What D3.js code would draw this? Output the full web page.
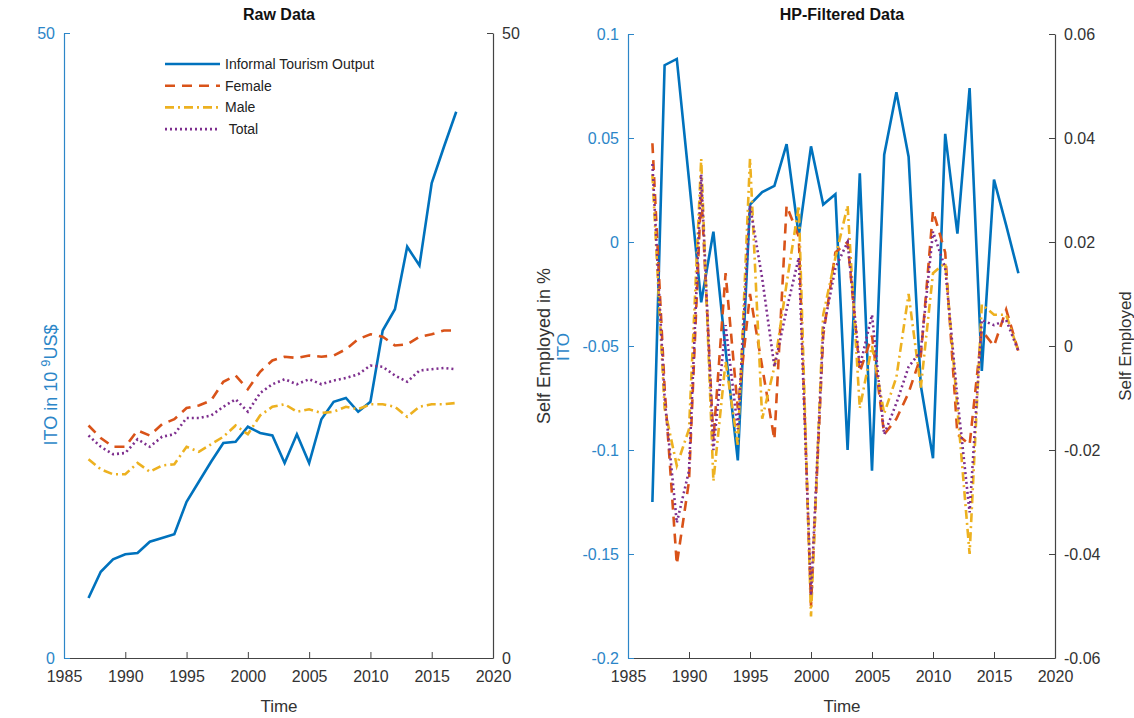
<!DOCTYPE html>
<html>
<head>
<meta charset="utf-8">
<script src="https://cdn.jsdelivr.net/npm/d3@7"></script>
<style>
  body { margin: 0; background: #fff; }
  svg { font-family: "Liberation Sans", Arial, sans-serif; }
  .ttl { font-weight: bold; font-size: 16px; fill: #111; }
  .lbl { font-size: 17px; }
  .tick text { font-size: 16px; }
</style>
</head>
<body>
<script>
// years shared by both panels
var years = [1987,1988,1989,1990,1991,1992,1993,1994,1995,1996,1997,1998,1999,2000,2001,2002,
             2003,2004,2005,2006,2007,2008,2009,2010,2011,2012,2013,2014,2015,2016,2017];

// raw data (10^9 US$ and % self employed)
var rawITO    = [4.8,6.9,7.9,8.3,8.4,9.3,9.6,9.9,12.5,14.1,15.7,17.2,17.3,18.5,18.0,17.8,
                 15.6,17.9,15.6,19.1,20.5,20.8,19.7,20.5,26.2,27.9,32.9,31.4,38.0,40.9,43.7];
var rawFemale = [18.6,17.6,16.9,16.9,18.2,17.8,18.7,19.1,20.0,20.2,20.6,22.1,22.6,21.5,22.9,23.8,
                 24.1,24.0,24.2,24.1,24.2,24.7,25.5,25.9,25.7,25.0,25.1,25.7,25.9,26.2,26.2];
var rawMale   = [15.9,15.1,14.7,14.7,15.6,14.9,15.4,15.5,16.9,16.5,17.1,17.7,18.6,17.9,19.4,20.1,
                 20.3,19.7,19.9,19.6,19.7,20.1,19.9,20.3,20.3,20.1,19.3,20.1,20.3,20.3,20.4];
var rawTotal  = [17.8,16.9,16.3,16.4,17.5,16.9,17.7,17.9,19.2,19.2,19.4,20.1,20.7,19.7,21.2,21.9,
                 22.3,21.9,22.3,21.9,22.2,22.4,22.7,23.4,23.3,22.6,22.1,23.0,23.1,23.2,23.1];

// hp-filtered cycle: ITO on left axis, self employed on right axis
var hpITO    = [-0.125,0.085,0.088,0.030,-0.029,0.005,-0.052,-0.105,0.018,0.024,0.027,0.047,0.003,0.046,0.018,0.023,
                -0.100,0.033,-0.110,0.042,0.072,0.041,-0.069,-0.104,0.052,0.004,0.074,-0.062,0.030,0.008,-0.015];
var hpFemale = [0.039,-0.008,-0.042,-0.026,0.030,-0.018,0.014,-0.012,0.010,-0.004,-0.018,0.027,0.021,-0.050,0.002,0.018,
                0.020,-0.005,0.002,-0.017,-0.014,-0.009,-0.002,0.026,0.018,-0.017,-0.019,0.003,0.000,0.007,-0.001];
var hpMale   = [0.033,-0.012,-0.023,-0.016,0.036,-0.026,-0.003,-0.019,0.036,-0.014,-0.004,0.012,0.027,-0.052,0.006,0.017,
                0.027,-0.012,0.000,-0.013,-0.006,0.010,-0.008,0.014,0.016,-0.012,-0.040,0.008,0.006,0.006,-0.001];
var hpTotal  = [0.035,-0.010,-0.034,-0.024,0.033,-0.020,0.004,-0.016,0.027,0.013,-0.004,0.007,0.017,-0.048,0.003,0.015,
                0.020,-0.004,0.006,-0.017,-0.011,-0.004,-0.001,0.022,0.015,-0.010,-0.032,0.005,0.004,0.005,-0.001];

var xTicks = [1985,1990,1995,2000,2005,2010,2015,2020];
var rawTicks = [0,50];
var hpLeftTicks = [-0.2,-0.15,-0.1,-0.05,0,0.05,0.1];
var hpRightTicks = [-0.06,-0.04,-0.02,0,0.02,0.04,0.06];
var legendNames = ["Informal Tourism Output","Female","Male"," Total"];

// line styles (matlab default colours)
var styles = [
  {color: "#0072BD", dash: null},
  {color: "#D95319", dash: "10,7"},
  {color: "#EDB120", dash: "9,4,2,4"},
  {color: "#7E2F8E", dash: "2,3"}
];
var blueAx = "#2c86c8", grayAx = "#444";

var width = 1134, height = 718;
var svg = d3.select("body").append("svg")
    .attr("width", width)
    .attr("height", height);

var plotBottom = 658, plotTop = 33;

// matlab style numbers, plain hyphen for minus
var numFmt = function(d){ return String(d); };

//---------- left panel ----------
var x1 = d3.scaleLinear().domain([1985,2020]).range([64,493]);
var y1 = d3.scaleLinear().domain([0,50]).range([plotBottom,plotTop]);

function styleAxis(g, col){
    g.select(".domain").attr("stroke", col).attr("stroke-width", 1.2);
    g.selectAll(".tick line").attr("stroke", col);
    g.selectAll(".tick text").attr("fill", col);
}

function drawX(xs){
    var g = svg.append("g")
        .attr("transform", "translate(0," + plotBottom + ")")
        .call(d3.axisBottom(xs).tickValues(xTicks).tickFormat(numFmt)
              .tickSizeInner(-6).tickSizeOuter(0).tickPadding(13));
    g.selectAll(".tick").filter(function(d){ return d == 1985 || d == 2020; })
        .select("line").remove();
    styleAxis(g, grayAx);
    g.selectAll(".tick text").attr("fill", "#333");
}

drawX(x1);
var gl1 = svg.append("g").attr("transform", "translate(64,0)")
    .call(d3.axisLeft(y1).tickValues(rawTicks).tickFormat(numFmt)
          .tickSizeInner(-6).tickSizeOuter(0).tickPadding(9));
styleAxis(gl1, blueAx);
var gr1 = svg.append("g").attr("transform", "translate(493,0)")
    .call(d3.axisRight(y1).tickValues(rawTicks).tickFormat(numFmt)
          .tickSizeInner(-6).tickSizeOuter(0).tickPadding(9));
styleAxis(gr1, grayAx);
gr1.selectAll(".tick text").attr("fill", "#333");

var rawSeries = [rawITO, rawFemale, rawMale, rawTotal];
var line1 = d3.line().x(function(d,i){ return x1(years[i]); }).y(function(d){ return y1(d); });
rawSeries.forEach(function(s, k){
    svg.append("path")
        .datum(s)
        .attr("fill", "none")
        .attr("stroke", styles[k].color)
        .attr("stroke-width", 2.6)
        .attr("stroke-dasharray", styles[k].dash)
        .attr("d", line1);
});

// legend
var leg = svg.append("g").attr("transform", "translate(165,64)");
legendNames.forEach(function(n, k){
    var row = leg.append("g").attr("transform", "translate(0," + (k * 21.7) + ")");
    row.append("line")
        .attr("x1", 0).attr("x2", 55).attr("y1", 0).attr("y2", 0)
        .attr("stroke", styles[k].color)
        .attr("stroke-width", 2.6)
        .attr("stroke-dasharray", styles[k].dash);
    row.append("text")
        .attr("x", 60).attr("y", 5)
        .style("font-size", "14px")
        .style("white-space", "pre")
        .attr("fill", "#222")
        .text(n);
});

svg.append("text").attr("class", "ttl").attr("x", 279).attr("y", 20)
    .attr("text-anchor", "middle").text("Raw Data");
svg.append("text").attr("class", "lbl").attr("x", 279).attr("y", 712)
    .attr("text-anchor", "middle").attr("fill", "#333").text("Time");

var yl1 = svg.append("text").attr("class", "lbl")
    .attr("transform", "translate(57,385) rotate(-90)")
    .attr("text-anchor", "middle").attr("fill", blueAx)
    .style("font-size", "18px");
yl1.append("tspan").text("ITO in 10 ");
yl1.append("tspan").attr("dy", -7).style("font-size", "13px").text("9");
yl1.append("tspan").attr("dy", 7).text("US$");

//---------- right panel ----------
var x2 = d3.scaleLinear().domain([1985,2020]).range([628,1055]);
var y2L = d3.scaleLinear().domain([-0.2,0.1]).range([plotBottom,34]);
var y2R = d3.scaleLinear().domain([-0.06,0.06]).range([plotBottom,34]);

drawX(x2);
var gl2 = svg.append("g").attr("transform", "translate(628,0)")
    .call(d3.axisLeft(y2L).tickValues(hpLeftTicks).tickFormat(numFmt)
          .tickSizeInner(-6).tickSizeOuter(0).tickPadding(9));
styleAxis(gl2, blueAx);
var gr2 = svg.append("g").attr("transform", "translate(1055,0)")
    .call(d3.axisRight(y2R).tickValues(hpRightTicks).tickFormat(numFmt)
          .tickSizeInner(-6).tickSizeOuter(0).tickPadding(9));
styleAxis(gr2, grayAx);
gr2.selectAll(".tick text").attr("fill", "#333");

var hpSelf = [hpFemale, hpMale, hpTotal];
var lineL = d3.line().x(function(d,i){ return x2(years[i]); }).y(function(d){ return y2L(d); });
var lineR = d3.line().x(function(d,i){ return x2(years[i]); }).y(function(d){ return y2R(d); });

svg.append("path")
    .datum(hpITO)
    .attr("fill", "none")
    .attr("stroke", styles[0].color)
    .attr("stroke-width", 2.6)
    .attr("d", lineL);
hpSelf.forEach(function(s, k){
    svg.append("path")
        .datum(s)
        .attr("fill", "none")
        .attr("stroke", styles[k + 1].color)
        .attr("stroke-width", 2.6)
        .attr("stroke-dasharray", styles[k + 1].dash)
        .attr("d", lineR);
});

svg.append("text").attr("class", "ttl").attr("x", 842).attr("y", 20)
    .attr("text-anchor", "middle").text("HP-Filtered Data");
svg.append("text").attr("class", "lbl").attr("x", 842).attr("y", 712)
    .attr("text-anchor", "middle").attr("fill", "#333").text("Time");

svg.append("text").attr("class", "lbl")
    .attr("transform", "translate(550,346) rotate(-90)")
    .attr("text-anchor", "middle").attr("fill", "#333")
    .style("font-size", "18px").text("Self Employed in %");
svg.append("text").attr("class", "lbl")
    .attr("transform", "translate(569,347) rotate(-90)")
    .attr("text-anchor", "middle").attr("fill", blueAx).text("ITO");
svg.append("text").attr("class", "lbl")
    .attr("transform", "translate(1131,346) rotate(-90)")
    .attr("text-anchor", "middle").attr("fill", "#333").text("Self Employed");
</script>
</body>
</html>
